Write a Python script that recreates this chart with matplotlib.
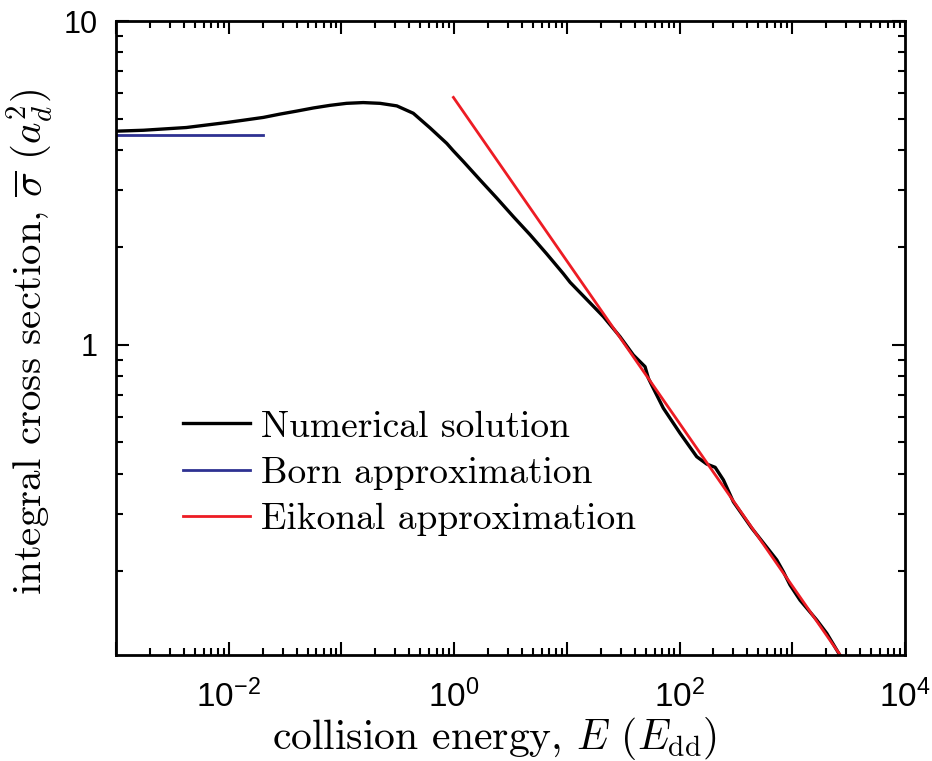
import matplotlib
matplotlib.use("Agg")
import matplotlib.pyplot as plt
from matplotlib.ticker import FixedLocator, FixedFormatter, NullFormatter

plt.rcParams["font.family"] = ["Liberation Sans", "DejaVu Sans"]

# Numerical solution.
num_E = [0.001, 0.00175, 0.0042, 0.0096, 0.0135, 0.0203, 0.0285, 0.040, 0.0564,
         0.079, 0.111, 0.156, 0.22, 0.31, 0.434, 0.61, 0.86, 0.98, 1.21, 1.70,
         2.39, 3.35, 4.71, 6.63, 9.3, 10.7, 21.1, 29.6, 38.9, 49.4, 52.9, 56.6,
         71.8, 101, 142, 174, 207, 245, 300, 437, 728, 834, 955, 1172, 1648,
         2023, 2655, 3000]
num_sigma = [4.57, 4.60, 4.69, 4.86, 4.94, 5.04, 5.16, 5.27, 5.39,
             5.49, 5.57, 5.60, 5.57, 5.47, 5.19, 4.68, 4.19, 3.98, 3.68, 3.23,
             2.84, 2.49, 2.19, 1.91, 1.66, 1.56, 1.223, 1.061, 0.931, 0.857, 0.789, 0.752,
             0.638, 0.534, 0.452, 0.429, 0.419, 0.383, 0.328, 0.272, 0.217, 0.1995, 0.1816,
             0.163, 0.1416, 0.1288, 0.110, 0.104]

# Born approximation (low-energy constant).
born_E = [0.001, 0.0201]
born_sigma = [4.46, 4.46]

# Eikonal approximation (straight line on log-log axes).
eik_E = [0.985, 3000]
eik_sigma = [5.81, 0.104]

x_major = [1e-3, 1e-2, 1e-1, 1e0, 1e1, 1e2, 1e3, 1e4]
x_labels = ["", r"$\mathdefault{10^{-2}}$", "", r"$\mathdefault{10^{0}}$", "",
            r"$\mathdefault{10^{2}}$", "", r"$\mathdefault{10^{4}}$"]
y_major = [1, 10]
y_labels = ["1", "10"]

def main():
    fig = plt.figure(figsize=(9.32, 7.61), dpi=100)
    ax = fig.add_axes([0.1245, 0.1393, 0.8465, 0.8331])

    ax.plot(num_E, num_sigma, color="black", lw=2.4, label="Numerical solution")
    ax.plot(born_E, born_sigma, color="#2e3192", lw=2.0, label="Born approximation")
    ax.plot(eik_E, eik_sigma, color="#ed1c24", lw=2.0, label="Eikonal approximation")

    ax.set_xscale("log")
    ax.set_yscale("log")
    ax.set_xlim(1e-3, 1e4)
    ax.set_ylim(0.1104, 10)

    # Ticks.
    ax.xaxis.set_major_locator(FixedLocator(x_major))
    ax.xaxis.set_major_formatter(FixedFormatter(x_labels))
    x_minor = [m * 10.0 ** k for k in range(-3, 4) for m in range(2, 10)]
    ax.xaxis.set_minor_locator(FixedLocator(x_minor))
    ax.xaxis.set_minor_formatter(NullFormatter())
    ax.yaxis.set_major_locator(FixedLocator(y_major))
    ax.yaxis.set_major_formatter(FixedFormatter(y_labels))
    y_minor = [m * 0.1 for m in range(2, 10)] + [float(m) for m in range(2, 10)]
    ax.yaxis.set_minor_locator(FixedLocator(y_minor))
    ax.yaxis.set_minor_formatter(NullFormatter())

    ax.tick_params(which="both", direction="in", top=True, right=True, width=1.5)
    ax.tick_params(which="major", length=9.5)
    ax.tick_params(which="minor", length=5)
    ax.tick_params(axis="x", which="major", labelsize=24, pad=18)
    ax.tick_params(axis="y", which="major", labelsize=22, pad=13)
    for s in ax.spines.values():
        s.set_linewidth(2.0)

    ax.set_xlabel(r"collision energy, $E$ $(E_{\rm dd})$", fontsize=30,
                  fontfamily="cmr10", math_fontfamily="cm")
    ax.set_ylabel(r"integral cross section, $\overline{\sigma}$ $(a_d^2)$", fontsize=29.5,
                  fontfamily="cmr10", math_fontfamily="cm")
    ax.xaxis.set_label_coords(0.48, -0.0945)
    ax.yaxis.set_label_coords(-0.077, 0.494)

    ax.legend(loc="upper left", bbox_to_anchor=(0.0849, 0.386), frameon=False,
              prop={"family": "cmr10", "size": 27}, handlelength=1.79,
              handletextpad=0.29, labelspacing=0.35, borderpad=0, borderaxespad=0)

    fig.savefig("out.png", dpi=100)

if __name__ == "__main__":
    main()
